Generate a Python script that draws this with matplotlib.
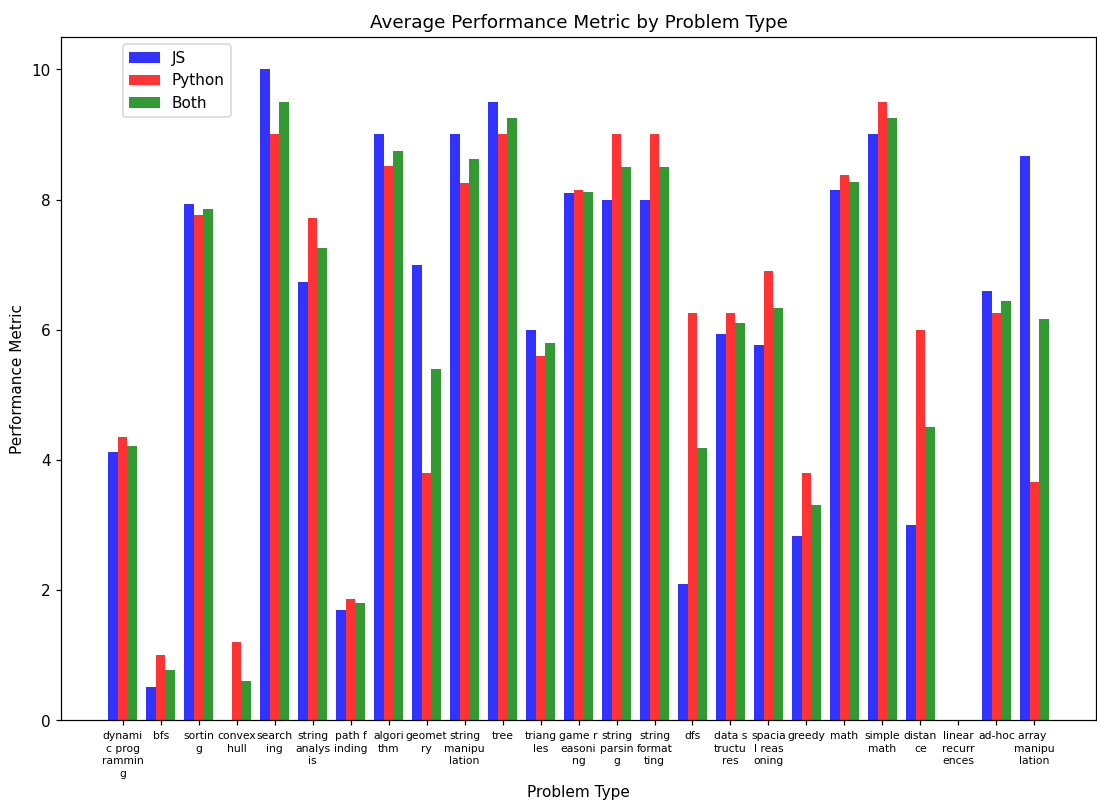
import textwrap

import matplotlib
matplotlib.use("Agg")
import matplotlib.pyplot as plt
import numpy as np

# Data
problem_types = ['dynamic programming', 'bfs', 'sorting', 'convex hull', 'searching',
                 'string analysis', 'path finding', 'algorithm', 'geometry',
                 'string manipulation', 'tree', 'triangles', 'game reasoning',
                 'string parsing', 'string formatting', 'dfs', 'data structures',
                 'spacial reasoning', 'greedy', 'math', 'simple math', 'distance',
                 'linear recurrences', 'ad-hoc', 'array manipulation']
js_scores = [4.12, 0.52, 7.93, 0.0, 10.0, 6.74, 1.7, 9.0, 7.0, 9.0, 9.5, 6.0, 8.1,
             8.0, 8.0, 2.1, 5.94, 5.77, 2.83, 8.15, 9.0, 3.0, 0.0, 6.6, 8.67]
python_scores = [4.35, 1.01, 7.77, 1.2, 9.0, 7.72, 1.87, 8.51, 3.8, 8.26, 9.0, 5.6, 8.15,
                 9.0, 9.0, 6.26, 6.26, 6.9, 3.8, 8.38, 9.5, 6.0, 0.0, 6.26, 3.66]
both_scores = [4.22, 0.77, 7.85, 0.6, 9.5, 7.25, 1.8, 8.75, 5.4, 8.63, 9.26, 5.8, 8.12,
               8.5, 8.5, 4.18, 6.1, 6.33, 3.31, 8.27, 9.25, 4.5, 0.0, 6.44, 6.17]

x = np.arange(len(problem_types))
width = 0.25

fig, ax = plt.subplots(figsize=(9.98, 7.32), dpi=110)
ax.bar(x - width, js_scores, width, color='b', alpha=0.8, label='JS')
ax.bar(x, python_scores, width, color='r', alpha=0.8, label='Python')
ax.bar(x + width, both_scores, width, color='g', alpha=0.8, label='Both')

ax.set_title('Average Performance Metric by Problem Type')
ax.set_xlabel('Problem Type')
ax.set_ylabel('Performance Metric')
ax.set_xticks(x)
ax.set_xticklabels([textwrap.fill(p, 6) for p in problem_types], fontsize=7,
                   linespacing=1.3)
ax.legend(loc='upper left', bbox_to_anchor=(0.052, 1.0))

fig.subplots_adjust(left=0.056, right=0.998, top=0.954, bottom=0.105)
plt.savefig('out.png')
